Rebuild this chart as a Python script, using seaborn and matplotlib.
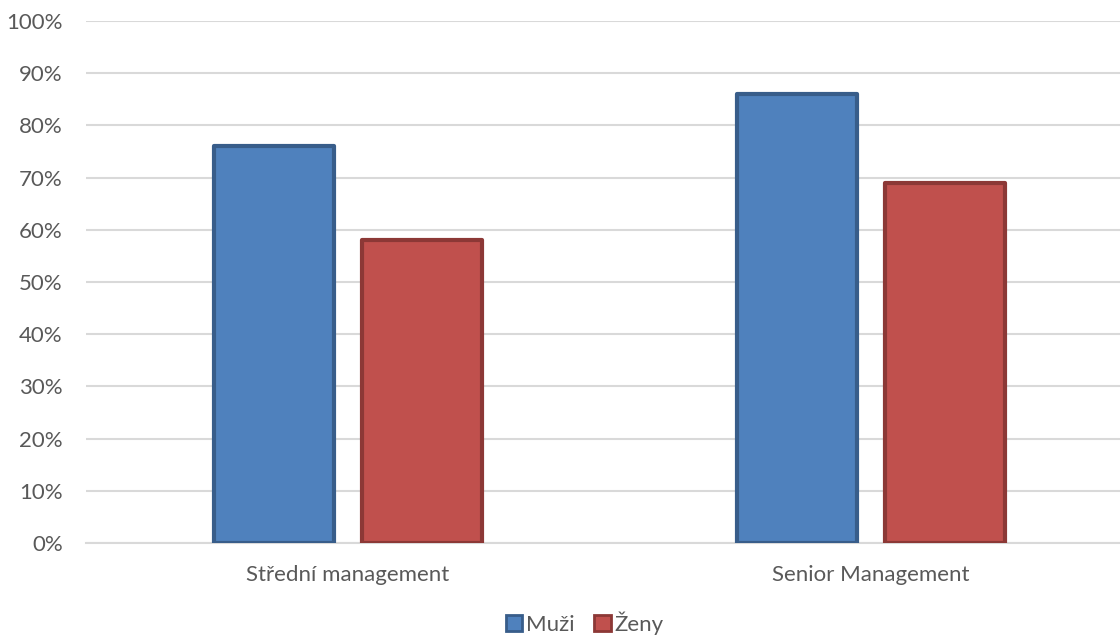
import matplotlib
matplotlib.use("Agg")
import matplotlib.pyplot as plt
import seaborn as sns
import pandas as pd
from matplotlib.ticker import PercentFormatter
from matplotlib.patches import Patch

categories = ["Střední management", "Senior Management"]
series_names = ["Muži", "Ženy"]
muzi = [0.76, 0.86]
zeny = [0.58, 0.69]
y_ticks = [i / 10 for i in range(11)]

fills = {"Muži": "#4F81BD", "Ženy": "#C0504D"}
edges = {"Muži": "#385D8A", "Ženy": "#8C3836"}

df = pd.DataFrame({
    "kategorie": categories * 2,
    "pohlavi": [series_names[0]] * 2 + [series_names[1]] * 2,
    "hodnota": muzi + zeny,
})

sns.set_theme(style="white")
plt.rcParams["font.family"] = ["Lato", "DejaVu Sans"]

fig = plt.figure(figsize=(11.2, 6.37), dpi=100)
ax = fig.add_axes([0.077, 0.1476, 0.923, 0.8195])

sns.barplot(data=df, x="kategorie", y="hodnota", hue="pohlavi",
            order=categories, hue_order=series_names, palette=fills,
            width=0.566, gap=0.19, ax=ax, legend=False, errorbar=None,
            saturation=1, zorder=3)

for container, name in zip(ax.containers, series_names):
    for bar in container:
        bar.set_edgecolor(edges[name])
        bar.set_linewidth(3)
        bar.set_joinstyle("round")

ax.set_ylim(0, 1)
ax.set_xlim(-0.5, 1.477)
ax.set_yticks(y_ticks)
ax.yaxis.set_major_formatter(PercentFormatter(1.0, decimals=0))
ax.grid(axis="y", color="#D9D9D9", linewidth=1.5, zorder=0)
ax.set_axisbelow(True)
for s in ["top", "right", "left"]:
    ax.spines[s].set_visible(False)
ax.spines["bottom"].set_color("#D9D9D9")
ax.spines["bottom"].set_linewidth(1.5)
ax.tick_params(axis="both", length=0, labelsize=16, labelcolor="#595959")
ax.tick_params(axis="y", pad=17)
ax.tick_params(axis="x", pad=16)
ax.set_xlabel("")
ax.set_ylabel("")

handles = [Patch(facecolor=fills[n], edgecolor=edges[n], linewidth=2, label=n) for n in series_names]
fig.legend(handles=handles, loc="center", bbox_to_anchor=(0.522, 0.022), ncol=2,
           frameon=False, fontsize=16, handlelength=0.75, handleheight=0.75,
           handletextpad=0.15, columnspacing=0.9, labelcolor="#595959",
           borderpad=0.2)

fig.savefig("out.png", dpi=100)
